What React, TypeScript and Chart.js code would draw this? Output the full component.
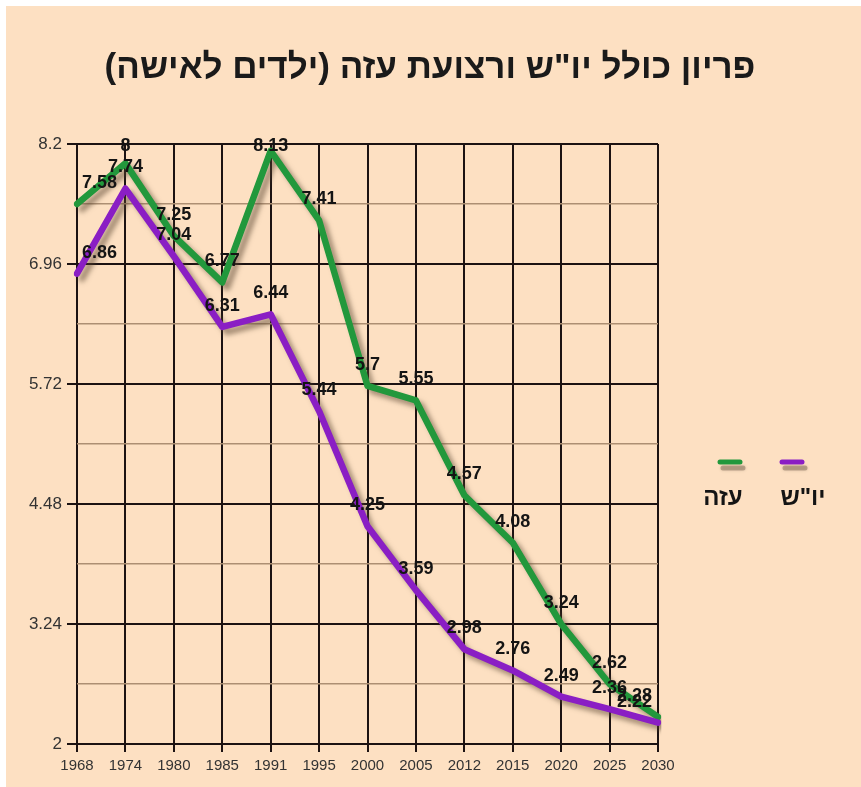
import React, { useEffect, useRef } from "react";
import { Chart, registerables } from "chart.js";

Chart.register(...registerables);

const YEARS = ["1968", "1974", "1980", "1985", "1991", "1995", "2000", "2005", "2012", "2015", "2020", "2025", "2030"];
const GAZA = [7.58, 8, 7.25, 6.77, 8.13, 7.41, 5.7, 5.55, 4.57, 4.08, 3.24, 2.62, 2.28];
const WEST_BANK = [6.86, 7.74, 7.04, 6.31, 6.44, 5.44, 4.25, 3.59, 2.98, 2.76, 2.49, 2.36, 2.22];
const Y_TICKS = [2, 3.24, 4.48, 5.72, 6.96, 8.2];

const TITLE = "פריון כולל יו\"ש ורצועת עזה (ילדים לאישה)";
const GAZA_LABEL = "עזה";
const WB_LABEL = "יו\"ש";

const GREEN = "#22983c";
const PURPLE = "#8a1ec4";
const BG = "#fde0c2";
const FONT = "'Liberation Sans', Arial, sans-serif";

const W = 855;
const H = 781;

export default function App() {
  const ref = useRef<HTMLCanvasElement | null>(null);

  useEffect(() => {
    const canvas = ref.current;
    if (!canvas) return;

    const minorTicks: number[] = [];
    for (let i = 0; i < Y_TICKS.length - 1; i++) {
      minorTicks.push((Y_TICKS[i] + Y_TICKS[i + 1]) / 2);
    }
    const allTicks = [...Y_TICKS, ...minorTicks].sort((a, b) => a - b);
    const isMajor = (v: number) => Y_TICKS.some((t) => Math.abs(t - v) < 1e-6);

    const shadowPlugin = {
      id: "shadowLines",
      beforeDatasetDraw(chart: any) {
        const c = chart.ctx;
        c.save();
        c.shadowColor = "rgba(90,70,50,0.55)";
        c.shadowBlur = 5;
        c.shadowOffsetX = 5;
        c.shadowOffsetY = 5;
      },
      afterDatasetDraw(chart: any) {
        chart.ctx.restore();
      },
    };

    const labelPlugin = {
      id: "extras",
      afterDatasetsDraw(chart: any) {
        const c = chart.ctx;
        const area = chart.chartArea;
        c.save();
        c.font = `bold 18px ${FONT}`;
        c.fillStyle = "#141414";
        c.textAlign = "center";
        c.textBaseline = "middle";
        chart.data.datasets.forEach((ds: any, di: number) => {
          const meta = chart.getDatasetMeta(di);
          meta.data.forEach((pt: any, i: number) => {
            const txt = String(ds.data[i]);
            const tw = c.measureText(txt).width;
            let x = pt.x;
            x = Math.max(x, area.left + 5 + tw / 2);
            x = Math.min(x, area.right - 6 - tw / 2);
            let y = pt.y - 21;
            y = Math.max(y, area.top + 2);
            c.fillText(txt, x, y);
          });
        });
        c.restore();
      },
      afterDraw(chart: any) {
        const c = chart.ctx;
        c.save();
        // title
        c.font = `bold 35px ${FONT}`;
        c.fillStyle = "#1a1a1a";
        c.textAlign = "center";
        c.textBaseline = "middle";
        c.direction = "rtl";
        c.fillText(TITLE, 424, 62);
        c.direction = "ltr";
        // legend markers
        const drawMarker = (x1: number, x2: number, y: number, col: string) => {
          c.save();
          c.lineCap = "round";
          c.lineWidth = 5;
          c.strokeStyle = "rgba(120,100,80,0.45)";
          c.shadowColor = "rgba(120,100,80,0.6)";
          c.shadowBlur = 3;
          c.beginPath();
          c.moveTo(x1 + 3, y + 6);
          c.lineTo(x2 + 3, y + 6);
          c.stroke();
          c.shadowColor = "transparent";
          c.strokeStyle = col;
          c.beginPath();
          c.moveTo(x1, y);
          c.lineTo(x2, y);
          c.stroke();
          c.restore();
        };
        drawMarker(714, 734, 456, GREEN);
        drawMarker(776, 796, 456, PURPLE);
        c.font = `bold 24px ${FONT}`;
        c.fillStyle = "#141414";
        c.textAlign = "center";
        c.textBaseline = "middle";
        c.fillText(GAZA_LABEL, 717, 492);
        c.fillText(WB_LABEL, 797, 492);
        c.restore();
      },
    };

    const chart = new Chart(canvas, {
      type: "line",
      data: {
        labels: YEARS,
        datasets: [
          {
            label: WB_LABEL,
            data: WEST_BANK,
            borderColor: PURPLE,
            borderWidth: 6.5,
            pointRadius: 0,
            tension: 0,
            fill: false,
            borderCapStyle: "round",
            borderJoinStyle: "round",
            order: 1,
          },
          {
            label: GAZA_LABEL,
            data: GAZA,
            borderColor: GREEN,
            borderWidth: 6.5,
            pointRadius: 0,
            tension: 0,
            fill: false,
            borderCapStyle: "round",
            borderJoinStyle: "round",
            order: 2,
          },
        ],
      },
      options: {
        responsive: false,
        animation: false,
        devicePixelRatio: 1,
        layout: { padding: { top: 138, right: 203, bottom: 0, left: 0 } },
        plugins: {
          legend: { display: false },
          title: { display: false },
          tooltip: { enabled: false },
        },
        scales: {
          x: {
            type: "category",
            offset: false,
            border: { display: false },
            grid: {
              color: "#1c1212",
              lineWidth: 2,
              tickLength: 8,
              tickColor: "#1c1212",
            },
            ticks: {
              autoSkip: false,
              maxRotation: 0,
              color: "#333333",
              font: { family: FONT, size: 15 },
              padding: 5,
            },
            afterFit(scale: any) {
              scale.height = 43;
            },
          },
          y: {
            min: 2,
            max: 8.2,
            border: { display: false },
            afterBuildTicks(scale: any) {
              scale.ticks = allTicks.map((v) => ({ value: v }));
            },
            grid: {
              color: (ctx: any) => (ctx.tick && isMajor(ctx.tick.value) ? "#1c1212" : "#ad8f73"),
              lineWidth: (ctx: any) => (ctx.tick && isMajor(ctx.tick.value) ? 2 : 1.5),
              tickLength: 10,
              tickColor: (ctx: any) => (ctx.tick && isMajor(ctx.tick.value) ? "#1c1212" : "rgba(0,0,0,0)"),
            },
            ticks: {
              autoSkip: false,
              color: "#333333",
              font: { family: FONT, size: 17 },
              padding: 5,
              callback: (v: any) => (isMajor(Number(v)) ? String(Y_TICKS.find((t) => Math.abs(t - Number(v)) < 1e-6)) : ""),
            },
            afterFit(scale: any) {
              scale.width = 71;
            },
          },
        },
      },
      plugins: [shadowPlugin, labelPlugin],
    });

    return () => chart.destroy();
  }, []);

  return (
    <div style={{ position: "absolute", left: 0, top: 0, width: 861, height: 787, background: "#ffffff" }}>
      <canvas
        ref={ref}
        width={W}
        height={H}
        style={{ position: "absolute", left: 6, top: 6, width: W, height: H, background: BG }}
      />
    </div>
  );
}
